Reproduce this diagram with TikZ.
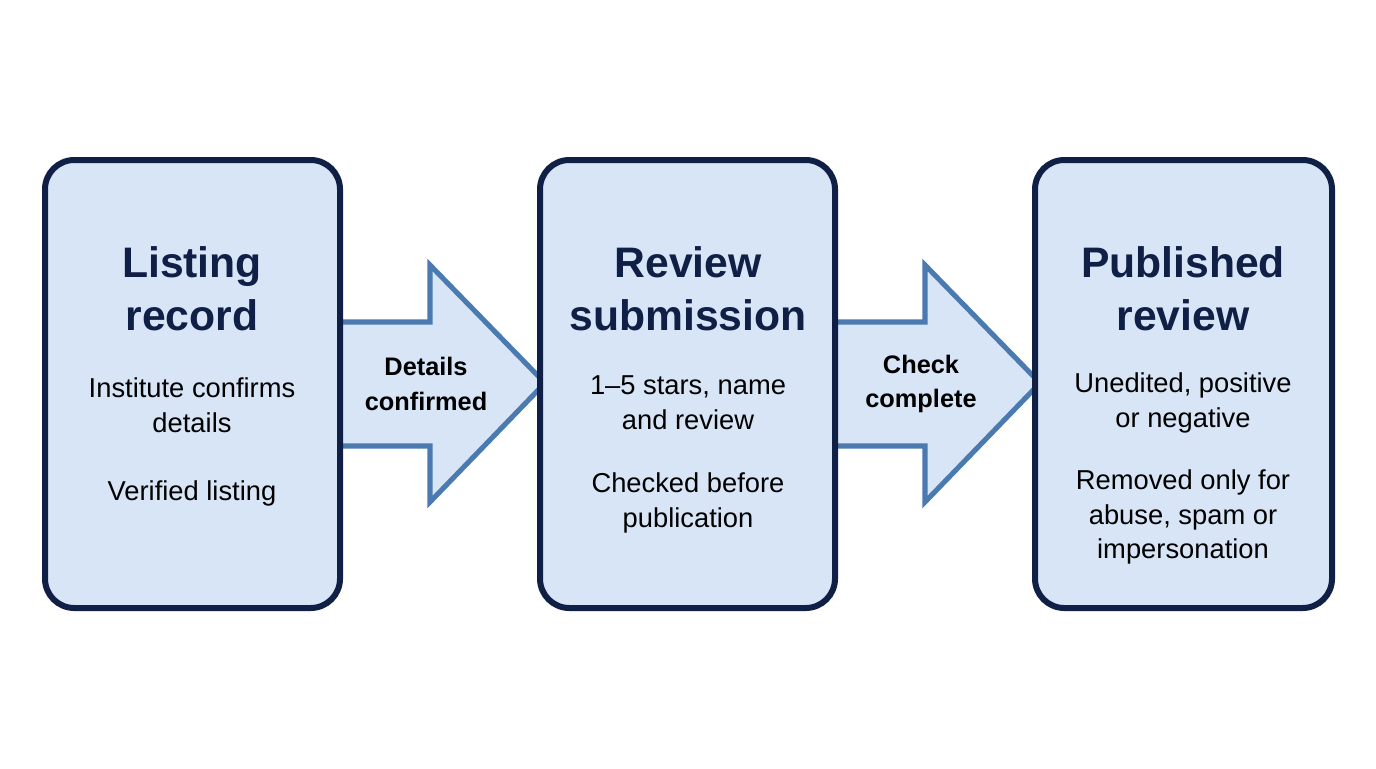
\documentclass[tikz,border=0pt]{standalone}
\usepackage{fontspec}
\setmainfont{Liberation Sans}
\definecolor{boxfill}{HTML}{D7E5F6}
\definecolor{boxline}{HTML}{0F1F45}
\definecolor{arrowline}{HTML}{4A7AB0}
\begin{document}
\begin{tikzpicture}[x=0.75pt, y=-0.75pt,
    stage/.style = {draw=boxline, fill=boxfill, line width=4.5pt, rounded corners=22pt},
    flow/.style = {draw=arrowline, fill=boxfill, line width=3.8pt, line join=miter},
    title/.style = {align=center, font=\fontsize{32}{40}\selectfont\bfseries, text=boxline},
    body/.style = {align=center, font=\fontsize{20.5}{26}\selectfont, text=black},
    flowlabel/.style = {align=center, font=\fontsize{19}{26}\selectfont\bfseries, text=black}]
    \useasboundingbox (0,0) rectangle (1376,768);
    % arrows between the stages
    \draw[flow] (338,322) -- (430,322) -- (430,265) -- (545,383) -- (430,502) -- (430,446) -- (338,446);
    \draw[flow] (833,322) -- (925,322) -- (925,265) -- (1040,383) -- (925,502) -- (925,446) -- (833,446);
    % stages
    \draw[stage] (45,160) rectangle (340,608);
    \draw[stage] (540,160) rectangle (835,608);
    \draw[stage] (1035,160) rectangle (1332,608);
    \node[title] (listing) at (192,289) {Listing\\record};
    \node[body] (listingA) at (192,405) {Institute confirms\\details};
    \node[body] (listingB) at (192,493) {Verified listing};
    \node[title] (submission) at (688,289) {Review\\submission};
    \node[body] (submissionA) at (688,403) {1–5 stars, name\\and review};
    \node[body] (submissionB) at (688,503) {Checked before\\publication};
    \node[title] (published) at (1183,289) {Published\\review};
    \node[body] (publishedA) at (1183,403) {Unedited, positive\\or negative};
    \node[body] (publishedB) at (1183,517) {Removed only for\\abuse, spam or\\impersonation};
    \node[flowlabel] (confirmed) at (426,384) {Details\\confirmed};
    \node[flowlabel] (complete) at (921,384) {Check\\complete};
\end{tikzpicture}
\end{document}
